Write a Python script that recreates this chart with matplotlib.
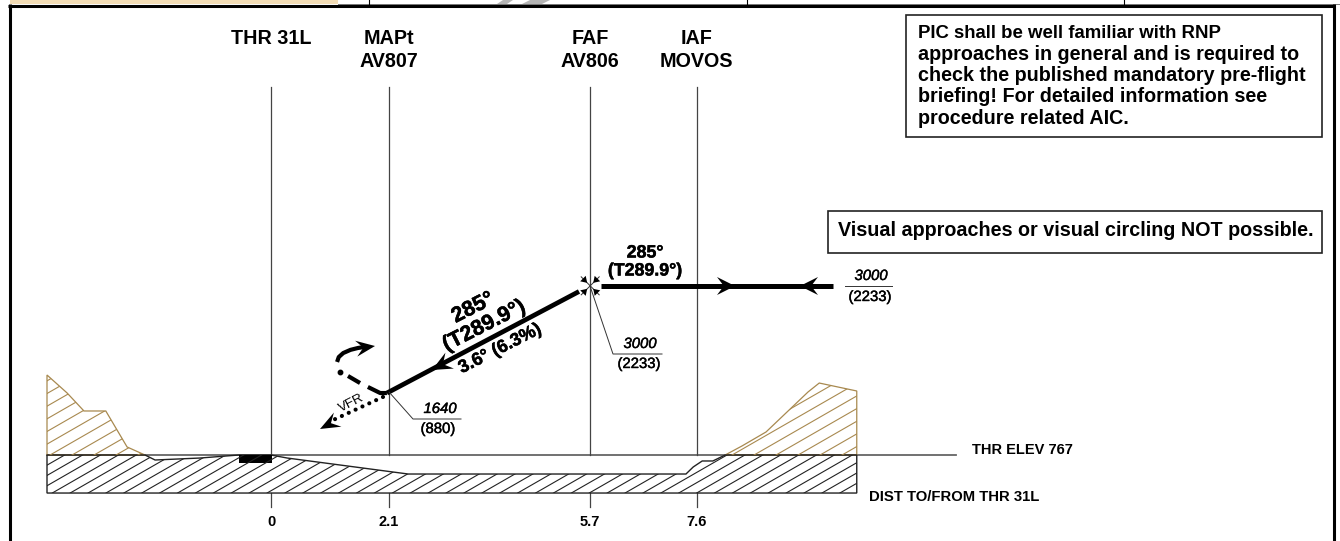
import numpy as np
import matplotlib
matplotlib.use('Agg')
import matplotlib.pyplot as plt
import matplotlib.patheffects as pe
from matplotlib.patches import Polygon, Rectangle

plt.rcParams['font.family'] = ['Liberation Sans', 'DejaVu Sans']

# distances in NM from THR 31L, heights in ft
thr_elev = 767
fix_dist = [0, 2.1, 5.7, 7.6]
fix_labels = ['0', '2.1', '5.7', '7.6']
fix_names = ['THR 31L', 'MAPt\nAV807', 'FAF\nAV806', 'IAF\nMOVOS']

ground_x = [-4.0, -2.25, -2.07, -1.27, -0.57, 0, 0.29, 2.45, 7.41, 7.54, 7.70, 7.89, 8.11, 10.46, 10.46, -4.0]
ground_y = [767, 767, 701, 727, 767, 767, 727, 516, 516, 609, 688, 688, 767, 767, 265, 265]
terrain_l_x = [-4.0, -3.64, -3.34, -2.95, -2.57, -2.25, -4.0]
terrain_l_y = [1823, 1585, 1348, 1348, 873, 767, 767]
terrain_r_x = [8.11, 8.41, 8.84, 9.14, 9.59, 9.79, 10.46, 10.46]
terrain_r_y = [767, 886, 1071, 1282, 1599, 1717, 1612, 767]

final_x = [2.07, 5.5]
final_y = [1585, 2925]
inbound_x = [5.89, 10.04]
inbound_y = [3000, 3000]
missed_1_x, missed_1_y = [2.07, 1.95, 1.73], [1585, 1585, 1665]
missed_2_x, missed_2_y = [1.59, 1.375], [1717, 1810]
missed_3_x, missed_3_y = [1.23], [1863]
missed_4_x, missed_4_y = [1.18, 1.21, 1.29, 1.42, 1.55, 1.72], [1995, 2060, 2113, 2155, 2179, 2200]
vfr_x, vfr_y = [2.0, 1.11], [1533, 1229]

PX_NM = 56.0
PX_FT = 1 / 13.2
W, H = 1340, 541
GOLD = '#a8894f'


def xpx(d):
    return 271 + d * PX_NM


def ypx(h):
    return 455 - (h - thr_elev) * PX_FT


def fat(w=0.35):
    # the chart's type is heavier than the bold face here
    return [pe.withStroke(linewidth=w, foreground='k')]


fig = plt.figure(figsize=(W / 100, H / 100), dpi=100)
ax = fig.add_axes([0, 0, 1, 1])
ax.set_xlim(-271 / PX_NM, (W - 271) / PX_NM)
ax.set_ylim(thr_elev - (H - 455) / PX_FT, thr_elev + 455 / PX_FT)
ax.axis('off')

# overlay in pixels, for the frame, boxes and text
ov = fig.add_axes([0, 0, 1, 1], facecolor='none')
ov.set_xlim(0, W)
ov.set_ylim(H, 0)
ov.axis('off')


def hatch(poly, color, step, phase, lw=0.8):
    for x0 in np.arange(-200, 1400, step) + phase:
        ln, = ov.plot([x0, x0 + 400], [493, 493 - 400 * 0.575], color=color, lw=lw, zorder=2)
        ln.set_clip_path(poly)


def head(x, y, angle, size=17, width=7, color='k'):
    # barbed arrow head, tip at pixel x,y
    a = np.radians(angle)
    ux, uy = np.cos(a), np.sin(a)
    nx, ny = -uy, ux
    pts = [(x, y),
           (x - size * ux + width * nx, y - size * uy + width * ny),
           (x - size * 0.62 * ux, y - size * 0.62 * uy),
           (x - size * ux - width * nx, y - size * uy - width * ny)]
    ov.add_patch(Polygon(pts, closed=True, fc=color, ec='none', zorder=6))


# terrain and ground
for tx, ty in [(terrain_l_x, terrain_l_y), (terrain_r_x, terrain_r_y)]:
    p = Polygon(np.c_[tx, ty], closed=True, fc='none', ec=GOLD, lw=0.9, zorder=3)
    ax.add_patch(p)
    hatch(p, GOLD, 22, 8)
g = Polygon(np.c_[ground_x, ground_y], closed=True, fc='none', ec='#222222', lw=1.0, zorder=3)
ax.add_patch(g)
hatch(g, '#222222', 17.9, 1.7)

# threshold elevation line and fixes
ax.plot([-4.0, (956 - 271) / PX_NM], [thr_elev, thr_elev], color='#666666', lw=1.3, zorder=1)
for d, lab, name in zip(fix_dist, fix_labels, fix_names):
    ax.plot([d, d], [thr_elev, thr_elev + 368 / PX_FT], color='#444444', lw=0.9, zorder=1)
    ax.plot([d, d], [265, 265 - 14 / PX_FT], color='#444444', lw=0.9, zorder=1)
    ov.text(xpx(d), 522, lab, ha='center', va='center', fontsize=10.5, fontweight='bold')
    for i, s in enumerate(name.split('\n')):
        ov.text(xpx(d), 38.5 + i * 23, s, ha='center', va='center', fontsize=14.2, fontweight='bold')

# runway
ax.add_patch(Rectangle((-0.57, thr_elev - 8 / PX_FT), 0.59, 8 / PX_FT, fc='k', ec='none', zorder=5))

# approach path
ax.plot(final_x, final_y, color='k', lw=3.4, solid_capstyle='butt', zorder=5)
ax.plot(inbound_x, inbound_y, color='k', lw=3.6, solid_capstyle='butt', zorder=5)
ax.plot(missed_1_x, missed_1_y, color='k', lw=3.0, solid_capstyle='butt', zorder=5)
ax.plot(missed_2_x, missed_2_y, color='k', lw=3.0, solid_capstyle='butt', zorder=5)
ax.plot(missed_3_x, missed_3_y, 'o', color='k', ms=3.2, zorder=5)
ax.plot(missed_4_x, missed_4_y, color='k', lw=3.0, solid_capstyle='butt', zorder=5)
ax.plot(vfr_x, vfr_y, color='k', lw=3.0, ls=(0, (0.01, 1.8)), dash_capstyle='round', zorder=5)

head(735, 286, 0, size=18, width=9)
head(800, 286, 180, size=18, width=9)
head(432, 370, 152, size=20, width=9)
head(375, 346, -8, size=19, width=8)
head(320, 429, 152, size=20, width=8)

# FAF symbol
fx, fy = xpx(5.7), ypx(3000)
for sx in (-1, 1):
    ov.plot([fx - sx * 9, fx + sx * 9], [fy - 9, fy + 9], color='#333333', lw=0.7, zorder=5)
    for sy in (-1, 1):
        ov.add_patch(Polygon([(fx + sx * 3, fy + sy * 3),
                              (fx + sx * 10, fy + sy * 4.5),
                              (fx + sx * 4.5, fy + sy * 10)],
                             closed=True, fc='k', ec='none', zorder=6))

# altitude leaders
for pts in ([(590, 286), (613, 354), (662, 354)],
            [(389, 392), (413, 419), (461, 419)],
            [(845, 286), (892, 286)]):
    ov.plot(*zip(*pts), color='#333333', lw=0.7, zorder=4)
alts = [(640, 344, '3000', 639, 364, '(2233)'),
        (440, 409, '1640', 438, 429, '(880)'),
        (871, 276, '3000', 870, 297, '(2233)')]
for x1, y1, top, x2, y2, bot in alts:
    ov.text(x1, y1, top, ha='center', va='center', fontsize=10.7, style='italic', path_effects=fat(0.3))
    ov.text(x2, y2, bot, ha='center', va='center', fontsize=10.7, path_effects=fat(0.3))

# track text
for x, y, s, fs, rot in [(473, 308, '285°', 15.5, 27), (484, 326, '(T289.9°)', 15.5, 27),
                         (500, 349, '3.6° (6.3%)', 13, 27),
                         (645, 253, '285°', 12.8, 0), (645, 271, '(T289.9°)', 12.8, 0)]:
    ov.text(x, y, s, ha='center', va='center', fontsize=fs, fontweight='bold',
            rotation=rot, rotation_mode='anchor', path_effects=fat())
ov.text(351, 403, 'VFR', ha='center', va='center', fontsize=9.5, rotation=27, rotation_mode='anchor')

ov.text(972, 450, 'THR ELEV 767', va='center', fontsize=10.5, fontweight='bold')
ov.text(869, 497, 'DIST TO/FROM THR 31L', va='center', fontsize=10.7, fontweight='bold')

# notes
ov.add_patch(Rectangle((906, 15), 416, 122, fc='w', ec='#222222', lw=1.2, zorder=3))
note_lines = ['PIC shall be well familiar with RNP',
              'approaches in general and is required to',
              'check the published mandatory pre-flight',
              'briefing! For detailed information see',
              'procedure related AIC.']
note_sizes = [13.4, 14.2, 14.2, 14.2, 14.2]
for i, s in enumerate(note_lines):
    ov.text(918, 33 + i * 21.3, s, va='center', fontsize=note_sizes[i], fontweight='bold', zorder=4)
ov.add_patch(Rectangle((828, 211), 494, 42, fc='w', ec='#222222', lw=1.2, zorder=3))
ov.text(1076, 231, 'Visual approaches or visual circling NOT possible.', ha='center', va='center',
        fontsize=14.2, fontweight='bold', zorder=4)

# frame and strip of the map above
ov.add_patch(Rectangle((10, 0), 328, 3.5, fc='#f2dcb5', ec='none', zorder=1))
ov.plot([338, W], [3.5, 3.5], color='#777777', lw=0.7)
ov.plot([9.5, 9.5], [4, H], color='k', lw=2.2, solid_capstyle='butt')
ov.plot([1333.5, 1333.5], [4, H], color='k', lw=2.2, solid_capstyle='butt')
ov.plot([8, 1335], [5.5, 5.5], color='k', lw=2.2, solid_capstyle='butt')
for x in (369, 747, 1124):
    ov.plot([x, x], [0, 4], color='k', lw=0.8)
ov.add_patch(Polygon([(497, 4), (507, 4), (513, 0), (503, 0)], fc='#b5b5b5', ec='none'))
ov.add_patch(Polygon([(522, 4), (542, 4), (550, 0), (530, 0)], fc='#b5b5b5', ec='none'))

fig.savefig('out.png', dpi=100)
